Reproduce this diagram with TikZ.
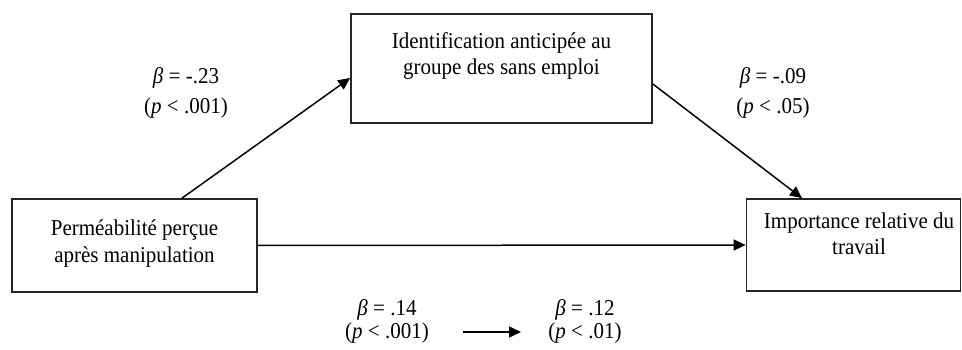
\documentclass[tikz,border=0pt]{standalone}
\usepackage{fontspec}
\setmainfont{Liberation Serif}
\usetikzlibrary{arrows.meta}
\newcommand{\tallt}[1]{\scalebox{1}[1.08]{#1}}
\begin{document}
\begin{tikzpicture}[x=1pt,y=-1pt,
  box/.style={draw=black!85, line width=1.7pt, inner sep=0pt},
  txt/.style={inner sep=0pt, anchor=base, font=\fontsize{21}{25}\selectfont},
  arr/.style={line width=1.5pt, -{Triangle[length=12pt,width=11pt]}}]
\useasboundingbox (0,0) rectangle (962,350);
% boxes
\node[box, minimum width=245pt, minimum height=93pt] (L) at (134.5,245.5) {};
\node[box, minimum width=301pt, minimum height=109pt] (T) at (501.5,68.5) {};
\node[box, minimum width=214pt, minimum height=92pt] (R) at (853.5,245) {};
% box texts
\node[txt] (L1) at (134.5,236) {\tallt{Perméabilité perçue}};
\node[txt] (L2) at (134.5,262) {\tallt{après manipulation}};
\node[txt] (T1) at (501.5,49) {\tallt{Identification anticipée au}};
\node[txt] (T2) at (501.5,74.5) {\tallt{groupe des sans emploi}};
\node[txt] (R1) at (859,228.5) {\tallt{Importance relative du}};
\node[txt] (R2) at (859,254.5) {\tallt{travail}};
% connectors
\draw[arr] ([xshift=47.5pt]L.north) -- ([yshift=-9.5pt]T.west);
\draw[arr] ([yshift=-15.5pt]T.east) -- ([xshift=-51.5pt]R.north);
\draw[arr] (L.east) -- (R.west);
% labels
\node[txt] (a1) at (186,84) {\tallt{\textit{β} = -.23}};
\node[txt] (a2) at (186,113.5) {\tallt{(\textit{p} < .001)}};
\node[txt] (b1) at (773,84) {\tallt{\textit{β} = -.09}};
\node[txt] (b2) at (773,113.5) {\tallt{(\textit{p} < .05)}};
\node[txt] (c1) at (387,315) {\tallt{\textit{β} = .14}};
\node[txt] (c2) at (387,338) {\tallt{(\textit{p} < .001)}};
\node[txt] (d1) at (585,315) {\tallt{\textit{β} = .12}};
\node[txt] (d2) at (585,338) {\tallt{(\textit{p} < .01)}};
\coordinate (s1) at (463,332);
\coordinate (s2) at (521,332);
\draw[arr] (s1) -- (s2);
\end{tikzpicture}
\end{document}
